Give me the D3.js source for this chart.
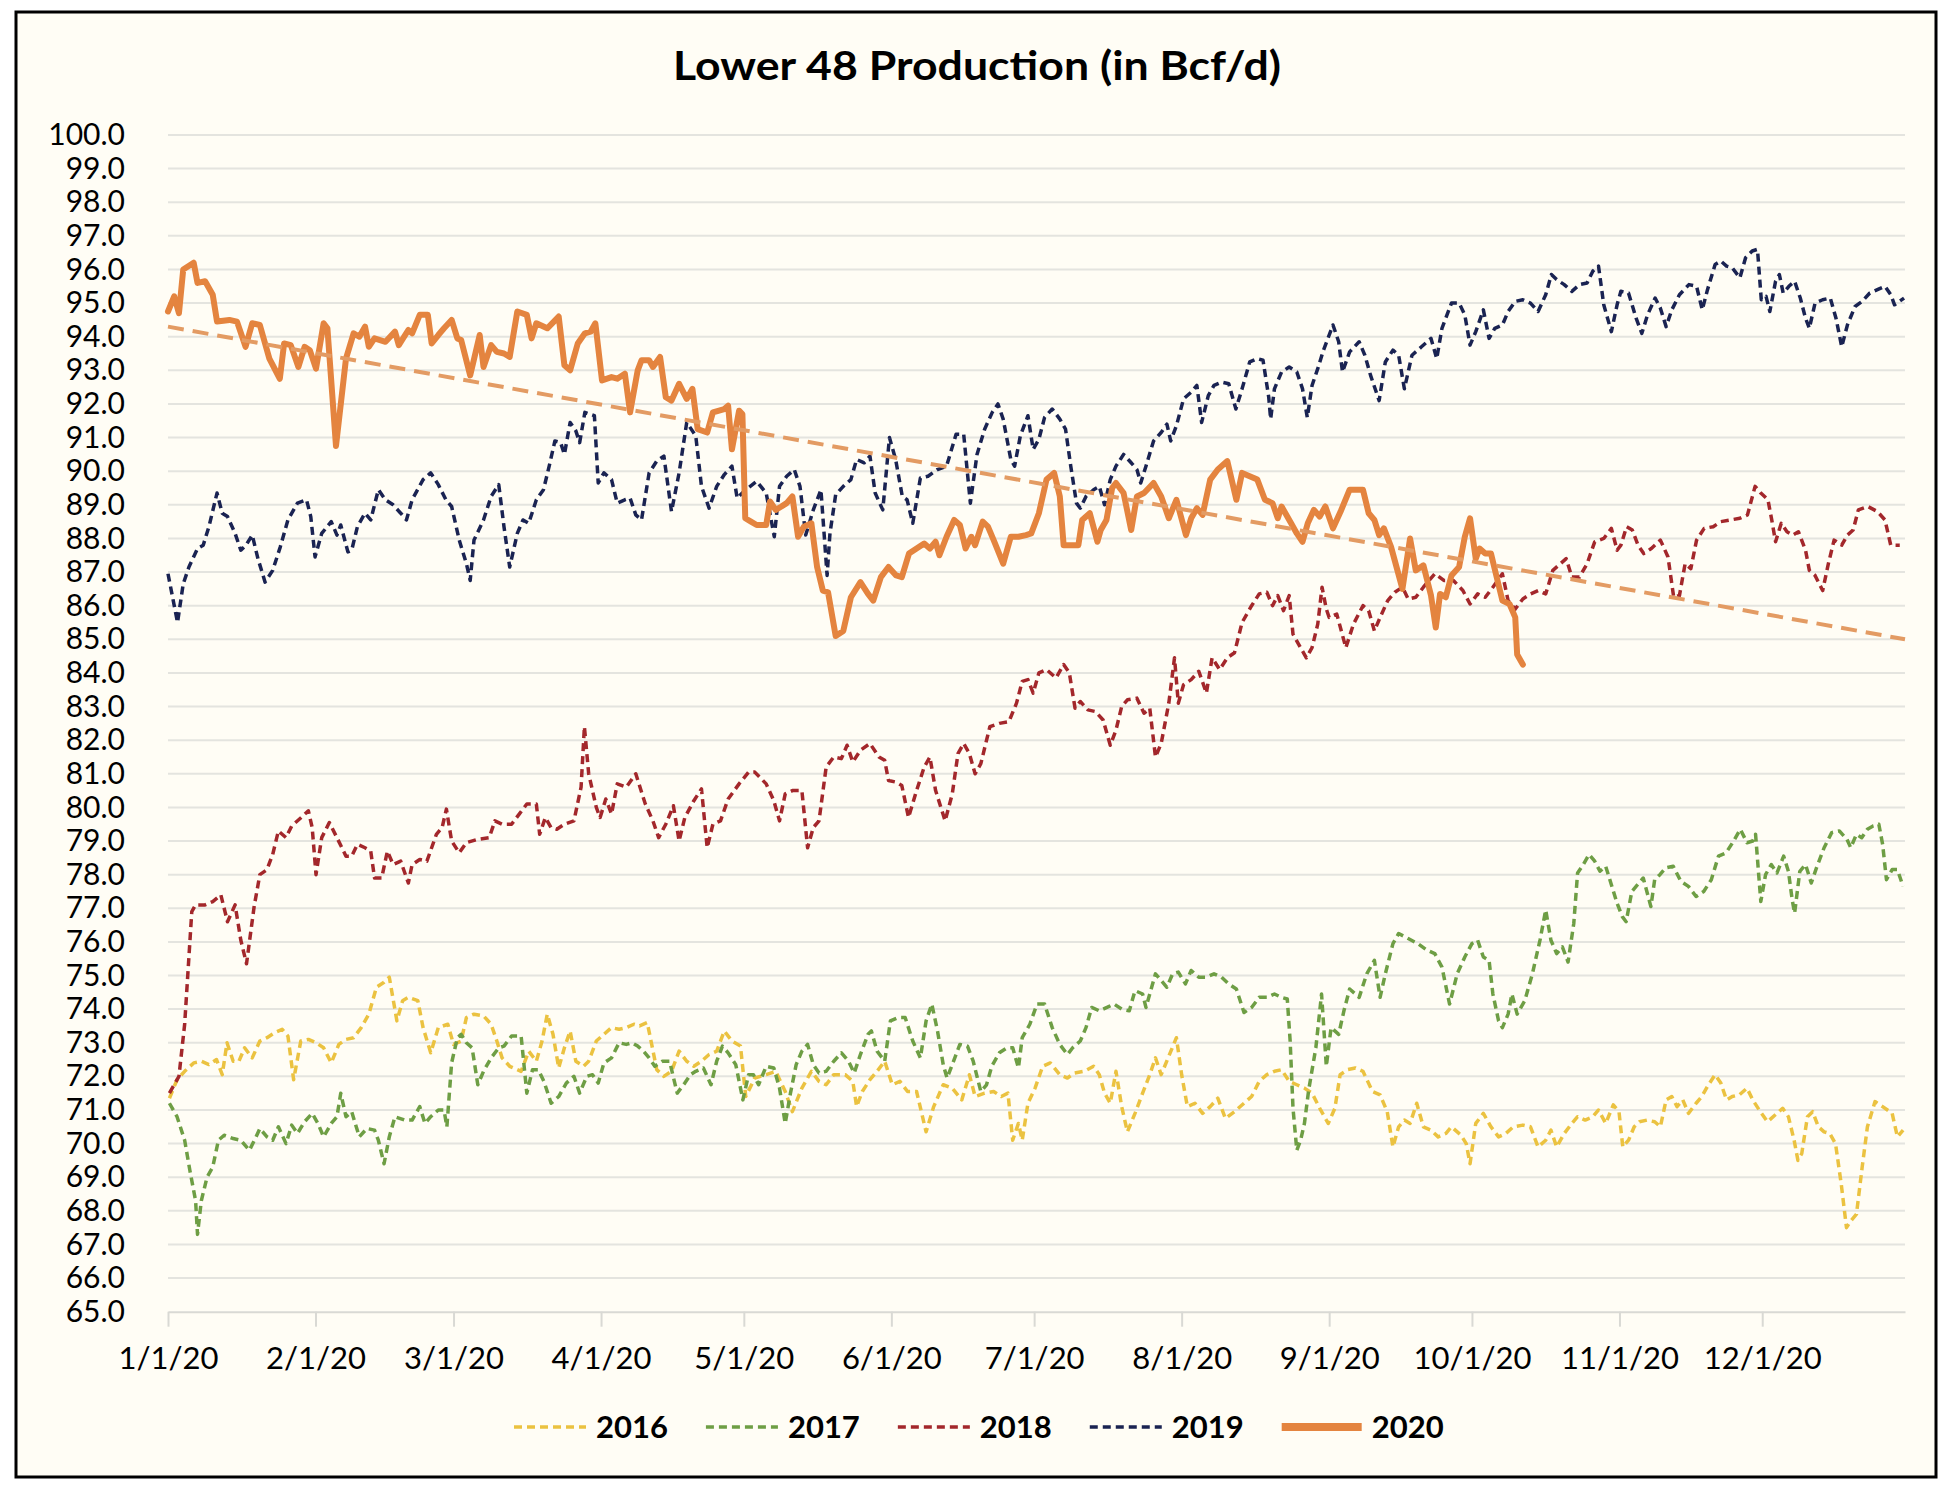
<!DOCTYPE html>
<html><head><meta charset="utf-8">
<script src="https://cdn.jsdelivr.net/npm/d3@7"></script>
<style>
html,body{margin:0;padding:0;background:#ffffff;}
svg{display:block;font-family:Lato,"Open Sans",sans-serif;}
</style></head><body>
<svg id="chart" width="1950" height="1492"></svg>
<script>
// ---------- DATA ----------
const chartTitle = "Lower 48 Production (in Bcf/d)";
const seriesNames = ["2016", "2017", "2018", "2019", "2020"];
const yTickValues = d3.range(65, 101, 1);
const monthTicks = d3.range(0, 12).map(m => new Date(2020, m, 1));
// points: [day of year offset from 1/1/20, Bcf/d]
const s2016 = [[0.3,71.35],[1.9,71.9],[3.5,72.15],[5.4,72.4],[7,72.45],[8.6,72.35],[10.2,72.5],[11.4,72.05],[12.4,73],[13.7,72.45],[14.9,72.45],[16.1,72.85],[17.7,72.55],[19.3,73.05],[20.8,73.15],[22.4,73.3],[24,73.4],[25.2,73.2],[26.4,71.9],[27.9,73.05],[29.5,73.1],[31.1,73],[32.7,72.85],[34.3,72.4],[35.9,72.95],[37.4,73.1],[39,73.15],[40.6,73.45],[42.2,73.85],[43.8,74.65],[45.4,74.8],[46.5,74.95],[48.1,73.65],[49.3,74.25],[50.5,74.35],[52.5,74.25],[53.6,73.45],[55.2,72.7],[56.8,73.45],[58.8,73.55],[60,72.95],[61.6,73.05],[62.7,73.75],[64.3,73.85],[66.3,73.8],[67.9,73.55],[69.1,73.05],[70.2,72.55],[71.8,72.3],[74.2,72.15],[75.8,72.75],[77.4,72.45],[78.6,73.05],[79.7,73.85],[80.9,73.25],[82.1,72.25],[83.3,72.85],[84.5,73.35],[85.7,72.45],[87.3,72.3],[88.4,72.45],[90,73.05],[91.6,73.25],[93.2,73.45],[94.8,73.4],[96.3,73.45],[97.9,73.55],[99.1,73.5],[100.7,73.6],[101.5,73.05],[102.7,72.2],[104.2,72],[105.8,72.15],[107.4,72.75],[109,72.45],[110.5,72.3],[112.1,72.45],[113.7,72.65],[115.3,72.75],[116.9,73.35],[118.5,73.05],[120.3,72.9],[121.4,71.4],[123.3,71.95],[125.7,72.05],[127.7,72.15],[129.7,71.55],[131.2,70.95],[133.2,71.65],[135.2,72.15],[136.8,71.85],[138.3,71.75],[139.9,72.05],[142.3,72.05],[143.9,71.85],[144.7,71.1],[145.9,71.55],[147.5,71.9],[149,72.15],[150.6,72.45],[152.2,71.75],[153.8,71.85],[155.4,71.55],[157.3,71.55],[159.3,70.35],[160.9,71.1],[162.9,71.75],[164.8,71.65],[166.8,71.3],[168.4,72.05],[169.6,71.4],[171.6,71.5],[173.5,71.55],[175.1,71.4],[176.5,71.5],[177.5,70.1],[178.7,70.6],[179.5,70.1],[180.7,71.2],[182.2,71.65],[183.8,72.3],[185.4,72.4],[187.4,72.05],[189,71.95],[190.5,72.1],[192.5,72.15],[194.5,72.3],[195.7,72.05],[196.8,71.5],[198,71.2],[199.2,72.15],[200.4,71.1],[201.6,70.35],[203.2,70.9],[204.8,71.5],[206.3,72.05],[207.5,72.55],[208.7,72.05],[210.3,72.6],[211.9,73.15],[213,72.05],[214.2,71.1],[215.8,71.2],[217.4,70.9],[219,71.1],[220.6,71.35],[222.2,70.75],[224.1,70.95],[226.1,71.2],[227.7,71.4],[229.3,71.85],[230.9,72.05],[232.5,72.15],[234,72.2],[235.6,71.85],[237.2,71.75],[238.8,71.65],[240.4,71.5],[242.2,71],[243.8,70.6],[245.2,71.05],[246.3,72.05],[247.9,72.2],[249.5,72.25],[251.1,72.15],[253.1,71.55],[254.7,71.45],[256.2,70.95],[257.4,69.9],[258.6,70.5],[259.8,70.7],[261,70.6],[262.4,71.2],[263.8,70.5],[265.4,70.4],[266.9,70.2],[268.5,70.3],[269.7,70.5],[271.7,70.25],[272.8,70],[273.6,69.4],[274.8,70.6],[276.4,70.9],[278,70.5],[279.6,70.2],[281.1,70.3],[282.7,70.5],[284.7,70.55],[286.3,70.5],[287.9,69.9],[289.5,70.1],[290.6,70.4],[291.8,69.9],[293.4,70.3],[295,70.6],[296.2,70.8],[297.8,70.7],[299.4,70.8],[300.6,71],[302.1,70.6],[303.7,71.15],[304.9,70.95],[305.7,69.9],[306.9,70.1],[308.1,70.5],[309.2,70.65],[310.8,70.7],[312.4,70.65],[313.6,70.5],[314.8,71.3],[316,71.4],[317.1,71.1],[318.3,71.3],[319.5,70.9],[321.1,71.2],[322.3,71.4],[323.5,71.7],[325.1,72.05],[326.3,71.8],[327.5,71.3],[328.7,71.4],[330.2,71.45],[331.8,71.65],[333,71.3],[334.6,70.95],[336.1,70.65],[337.7,70.85],[339.3,71.05],[340.5,70.8],[341.7,70.1],[342.5,69.5],[343.3,69.7],[344.5,70.8],[345.6,70.95],[346.8,70.5],[348,70.35],[349.2,70.3],[350.4,70],[351.6,68.8],[352.7,67.5],[353.6,67.7],[354.8,67.9],[356,69.3],[357.1,70.5],[358.7,71.25],[360.3,71.1],[362.3,70.9],[363.4,70.2],[364.6,70.4]];
const s2017 = [[0.3,71.2],[1.9,70.8],[3.5,70.1],[4.6,69.2],[5.8,68.3],[6.2,67.3],[7,68.3],[8.2,69],[9.4,69.3],[10.6,70.1],[11.8,70.25],[13.7,70.15],[15.3,70.1],[17.1,69.8],[18.5,70.2],[19.3,70.45],[20.8,70.2],[22,70.1],[23.2,70.5],[24.8,70],[26,70.55],[27.2,70.3],[28.7,70.65],[30.3,70.9],[31.5,70.6],[32.7,70.2],[34.3,70.6],[35.5,70.8],[36.3,71.5],[37.4,70.8],[38.6,70.95],[40.2,70.2],[41.8,70.45],[43.4,70.4],[44.2,70.1],[45.4,69.4],[46.5,70.2],[47.7,70.8],[49.7,70.7],[51.3,70.7],[52.9,71.1],[54,70.6],[55.2,70.8],[56.8,71],[58,71],[58.6,70.5],[59.6,72.4],[60.8,73.15],[61.6,73.25],[62.7,73],[63.9,72.85],[65.1,71.75],[66.3,72.15],[67.9,72.55],[69.5,72.85],[70.6,72.9],[72.2,73.2],[74.2,73.2],[75.4,71.5],[76.6,72.2],[77.8,72.2],[79,71.85],[80.5,71.2],[82.1,71.4],[83.7,71.8],[85.3,72],[86.5,71.5],[88,72],[89.2,72.05],[90.4,71.8],[91.6,72.4],[93.2,72.55],[94.8,73],[96.3,72.95],[97.5,73],[98.7,72.9],[99.9,72.75],[101.1,72.55],[102.3,72.3],[103.9,72.45],[105.4,72.45],[107,71.5],[108.6,71.8],[109.8,72.05],[110.9,72.15],[112.5,72.25],[114.1,71.75],[115.3,72.45],[116.5,72.9],[117.7,72.7],[119.3,72.35],[120.8,71.3],[122,72.05],[123,72.05],[124.1,71.75],[125.7,72.3],[127.3,72.25],[128.5,71.65],[129.7,70.6],[130.8,71.5],[132,72.35],[133.2,72.75],[134.4,72.95],[135.6,72.35],[136.8,72.1],[138.3,72.15],[139.9,72.45],[141.5,72.7],[143,72.45],[144.2,72.1],[145.5,72.65],[147.1,73.25],[147.8,73.35],[149,72.75],[150.6,72.45],[151.8,73.65],[153.4,73.75],[154.9,73.75],[156.5,73.05],[158.1,72.55],[159.3,73.65],[160.5,74.15],[161.7,73.35],[162.9,72.35],[163.7,71.95],[164.8,72.35],[166.4,72.95],[168,72.9],[169.2,72.45],[170.8,71.55],[172,71.75],[173.1,72.3],[174.7,72.7],[176.3,72.85],[177.5,72.85],[178.7,72.25],[179.5,73.15],[181.1,73.55],[182.6,74.15],[184.2,74.15],[185.8,73.45],[187.4,72.95],[189,72.65],[190.1,72.85],[191.7,73.05],[192.9,73.45],[194.1,74.05],[195.7,73.95],[197.3,74.05],[198.8,74.15],[200.4,74],[202,73.95],[203.2,74.55],[204.8,74.45],[205.5,74.05],[206.7,74.65],[207.5,75.05],[208.7,74.85],[209.9,74.65],[211.1,75.05],[212.3,75.1],[213.8,74.75],[215,75.15],[216.6,74.95],[218.2,74.95],[219.8,75.05],[221.4,74.95],[222.9,74.75],[224.5,74.6],[226.1,73.9],[227.7,74.05],[229.3,74.35],[230.9,74.35],[232.5,74.45],[234,74.35],[235.2,74.3],[235.8,73.05],[236.4,71.05],[237.2,69.8],[238,70.1],[238.8,70.6],[239.7,71.6],[241.2,72.85],[242.4,74.45],[243.4,72.3],[244.4,73.45],[246,73.25],[247.1,73.95],[248.3,74.6],[250.3,74.35],[251.9,75.05],[253.5,75.45],[254.7,74.35],[255.8,75.05],[257.4,75.95],[258.6,76.25],[260.6,76.1],[262.6,75.95],[264.6,75.75],[266.2,75.65],[267.7,75.25],[269.3,74.15],[270.9,75.05],[272.5,75.55],[274,75.95],[275.2,76.05],[276.4,75.55],[277.6,75.45],[278.4,74.45],[279.6,73.65],[280.4,73.45],[281.6,73.85],[282.4,74.45],[283.5,73.85],[285.1,74.25],[286.7,75.05],[288.3,76.05],[289.5,76.95],[290.6,76.05],[291.8,75.65],[293,75.85],[294.2,75.4],[295.4,76.55],[296.2,78.05],[297.4,78.3],[298.6,78.6],[299.8,78.4],[300.9,78.1],[302.1,78.25],[303.3,77.7],[304.5,77.15],[305.6,76.75],[306.4,76.6],[307.6,77.5],[308.8,77.7],[310,77.9],[311.6,77.05],[312.4,77.85],[313.5,78],[314.7,78.2],[316.3,78.25],[317.9,77.8],[319.5,77.65],[321.1,77.35],[322.7,77.5],[324.3,77.85],[325.8,78.55],[327.4,78.65],[329,79],[330.4,79.35],[331.8,78.95],[333,79],[333.6,79.2],[334.2,78.1],[334.7,77.2],[335.7,78],[336.9,78.3],[338.1,78.05],[339.5,78.55],[340.5,78.1],[341.3,77.25],[341.8,76.85],[342.9,78.1],[344.1,78.3],[345.3,77.75],[346.4,78.2],[348,78.8],[349.6,79.25],[351.2,79.3],[352.8,79.05],[353.6,78.8],[354.8,79.2],[355.9,79.1],[357.1,79.35],[358.3,79.45],[359.5,79.5],[360.3,78.9],[361.1,77.85],[362.3,78.15],[363.4,78.15],[364.6,77.65]];
const s2018 = [[0.3,71.5],[2.3,72],[3.5,73.55],[5,76.9],[5.8,77.1],[7.8,77.1],[9.4,77.2],[11.1,77.4],[12.5,76.6],[14.1,77.1],[15.3,76.05],[16.5,75.35],[18.1,77.05],[19.3,78],[20.8,78.15],[22,78.6],[23.2,79.3],[24.8,79.1],[26,79.45],[28,79.7],[29.5,79.9],[30.3,79.4],[31.1,78],[32.3,79.1],[33.9,79.55],[35.5,79.1],[37.4,78.55],[38.6,78.55],[39.8,78.9],[41.4,78.8],[42.6,78.7],[43.4,77.9],[44.9,77.9],[46.1,78.7],[47.3,78.3],[48.9,78.4],[50.5,77.75],[51.3,78.3],[52.9,78.45],[54.4,78.4],[56.4,79.2],[57.6,79.4],[58.5,79.95],[59.6,79],[61.2,78.65],[62.7,78.95],[65.1,79.05],[67.5,79.1],[68.7,79.6],[70.2,79.5],[72.2,79.5],[73.8,79.8],[75.4,80.1],[77.4,80.1],[78.1,79.2],[79.3,79.7],[80.5,79.4],[81.7,79.35],[83.3,79.5],[85.3,79.6],[86.8,80.6],[87.5,82.4],[88.4,81],[90,80],[90.8,79.7],[92,80.25],[93.2,79.8],[94.4,80.7],[96.3,80.6],[98.3,81],[100.3,80.1],[101.9,79.6],[103.1,79.1],[104.6,79.5],[106.2,80.05],[107.4,79],[108.6,79.7],[110.5,80.2],[112.1,80.55],[113.3,78.8],[114.5,79.5],[116.1,79.6],[117.7,80.25],[120,80.7],[122,81.05],[123.3,81.05],[125.7,80.7],[127.3,80.2],[128.5,79.6],[129.7,80.4],[131.2,80.5],[133.2,80.5],[134.4,78.8],[135.6,79.4],[136.8,79.6],[138.3,81.2],[139.9,81.5],[141.5,81.45],[142.7,81.85],[143.9,81.35],[145.5,81.7],[147.5,81.9],[149.4,81.5],[150.6,81.4],[151.4,80.8],[153,80.75],[154.2,80.65],[155.6,79.7],[157.3,80.5],[158.9,81.2],[160.1,81.5],[161.3,80.5],[163.3,79.6],[164.8,80.4],[166,81.6],[167.2,81.9],[168.4,81.6],[169.6,81],[170.8,81.3],[172.7,82.4],[174.7,82.5],[176.7,82.55],[178.3,83.1],[179.5,83.75],[180.7,83.8],[181.8,83.4],[183,84],[184.6,84.1],[186.6,83.85],[188.2,84.25],[189.4,84],[190.6,82.95],[191.7,83.15],[193.3,82.9],[194.9,82.85],[196.5,82.6],[198,81.85],[199.2,82.3],[200.4,83],[201.6,83.2],[203.6,83.25],[205.1,82.8],[206.3,82.95],[207.5,81.5],[208.7,81.9],[210.3,83.1],[211.5,84.45],[212.3,83.1],[213.4,83.65],[215,83.8],[216.6,84.05],[218.2,83.4],[219.4,84.45],[221,84.1],[222.6,84.45],[224.1,84.6],[225.7,85.5],[227.7,86],[229.3,86.35],[230.9,86.4],[232.1,86],[233.2,86.3],[234.4,85.85],[235.6,86.3],[236.4,85.15],[238,84.75],[239.2,84.45],[240.4,84.75],[241.6,85.45],[242.5,86.55],[243.4,85.9],[244,85.65],[245.6,85.75],[247.5,84.75],[249.1,85.45],[251.1,86],[252.3,85.85],[253.5,85.25],[254.7,85.65],[256.3,86.15],[257.8,86.4],[259.4,86.55],[260.6,86.2],[262.2,86.25],[263.8,86.55],[266.2,86.95],[268.1,86.75],[270.1,86.75],[272.1,86.45],[273.6,86.05],[275.2,86.35],[276.8,86.25],[278.4,86.55],[280.4,86.95],[281.6,86.15],[283.1,85.9],[284.7,86.2],[286.3,86.35],[287.9,86.45],[289.5,86.35],[291,87.05],[292.6,87.25],[293.8,87.4],[295,86.85],[296.6,86.85],[298.2,87.25],[299.8,87.9],[301.7,88],[303.3,88.3],[304.5,87.65],[305.3,87.8],[306.5,88.35],[307.7,88.25],[308.9,87.8],[310.1,87.55],[311.7,87.7],[313.6,87.95],[315.2,87.45],[316.4,86.25],[317.6,86.3],[318.8,87.25],[320,87.1],[321.2,87.95],[322.8,88.3],[324.7,88.35],[326.3,88.5],[328.3,88.55],[330.3,88.6],[331.9,88.7],[333.5,89.55],[334.7,89.35],[336.2,89.15],[337,88.55],[337.8,87.9],[339,88.45],[340.2,88.2],[341.4,88.1],[342.6,88.2],[344.1,87.65],[344.9,87.05],[346.1,86.9],[347.7,86.45],[348.9,87.25],[350.1,87.95],[351.7,87.8],[352.9,88.1],[354.1,88.25],[355.2,88.85],[357.2,88.95],[359.2,88.8],[360.8,88.55],[362,87.8],[363.9,87.8]];
const s2019 = [[0,86.95],[2,85.5],[3.2,86.65],[4.4,87.15],[6.2,87.7],[7.4,87.8],[8.6,88.35],[10.3,89.35],[11.4,88.75],[12.5,88.65],[14.1,88.15],[15.3,87.65],[16.4,87.8],[17.7,88.1],[18.9,87.4],[20.4,86.7],[22,87.05],[23.6,87.75],[25.2,88.55],[27.2,89.05],[29.1,89.15],[30,88.65],[30.9,87.45],[32.3,88.15],[34.3,88.5],[35.5,88.1],[36.3,88.4],[37.8,87.6],[38.6,87.65],[39.8,88.35],[41.4,88.75],[42.6,88.55],[44.2,89.45],[45.7,89.15],[47.3,89],[48.9,88.75],[50.1,88.55],[51.3,89.15],[53.6,89.75],[55.2,89.95],[56.8,89.6],[58.4,89.15],[59.6,88.95],[61.2,87.95],[62.7,87.25],[63.5,86.75],[64.3,87.95],[66.3,88.55],[67.9,89.25],[69.5,89.6],[70.6,88.35],[71.8,87.15],[73.4,88.15],[74.6,88.55],[75.8,88.45],[77.4,89.15],[78.9,89.45],[80.1,90.15],[81.3,90.9],[82.5,90.85],[83.3,90.5],[84.5,91.45],[85.7,91.2],[86.5,90.85],[87.6,91.75],[89.6,91.65],[90.4,89.65],[91.6,89.95],[93.2,89.75],[94.4,89.05],[96,89.15],[97.1,89.2],[98.3,88.7],[99.5,88.55],[101.1,89.95],[102.7,90.3],[104.2,90.45],[105.8,88.8],[107.4,89.95],[109,91.45],[110.9,91.05],[112.1,89.55],[113.7,88.9],[115.3,89.55],[116.9,89.9],[118.5,90.15],[119.6,89.2],[121,89.4],[123.7,89.7],[125.7,89.35],[127.4,88.05],[128.5,89.55],[130,89.85],[131.6,90.05],[132.8,89.55],[134,88.1],[135.6,88.85],[137.2,89.45],[138.5,86.9],[139.1,88.15],[140.3,89.3],[141.9,89.55],[143.5,89.75],[144.7,90.35],[146.3,90.25],[147.5,90.45],[148.6,89.35],[150.2,88.85],[151.6,91],[152.9,90.35],[154.3,89.25],[155.3,89.15],[156.5,88.45],[158.1,89.8],[159.7,89.85],[161.7,90.05],[163.6,90.15],[165.6,91.1],[167.2,91.1],[168.6,89.05],[170,90.5],[171.6,91.25],[173.2,91.75],[174.4,92],[175.5,91.55],[177.1,90.35],[177.9,90.15],[179.1,91.05],[180.7,91.65],[181.8,90.65],[183,90.95],[184.2,91.6],[185.8,91.85],[187.4,91.55],[188.6,91.25],[189.7,90.15],[190.9,89.05],[191.7,88.9],[192.9,89.25],[194.5,89.45],[195.7,89.55],[196.8,89],[198,89.75],[199.2,90.15],[200.8,90.5],[202.4,90.25],[203.6,90.05],[204.4,89.65],[205.5,90.15],[207.1,90.9],[208.7,91.15],[209.9,91.4],[210.7,90.9],[211.9,91.35],[213.4,92.15],[215,92.35],[216.2,92.55],[217.2,91.45],[218.6,92.25],[219.8,92.55],[221.4,92.65],[222.9,92.6],[224.4,91.85],[225.7,92.45],[227.3,93.25],[228.9,93.35],[230.1,93.3],[231.3,92.2],[231.7,91.55],[232.5,92.45],[234,92.95],[235.6,93.1],[237.2,92.95],[238.4,92.45],[239.4,91.6],[240.4,92.55],[241.6,93.05],[242.8,93.6],[244.8,94.35],[246,93.85],[246.8,92.95],[248.3,93.55],[250.3,93.85],[251.5,93.45],[252.7,92.85],[254.5,92.1],[255.8,93.25],[257.4,93.6],[258.6,93.45],[259.8,92.45],[261.4,93.45],[263.4,93.7],[265.4,93.95],[266.6,93.35],[267.7,94.25],[269.7,95],[271.3,95],[272.5,94.65],[273.6,93.75],[274.8,94.15],[276.4,94.8],[277.6,93.95],[278.8,94.25],[280.4,94.35],[281.6,94.75],[283.1,95.05],[284.7,95.1],[286.3,95],[287.9,94.75],[289.5,95.25],[290.7,95.85],[291.8,95.7],[293.4,95.55],[295,95.35],[296.6,95.55],[298.2,95.6],[299.4,95.95],[300.6,96.1],[301.7,94.95],[303.3,94.15],[304.5,94.95],[305.3,95.35],[306.9,95.3],[308.5,94.55],[309.7,94.1],[310.9,94.65],[312.5,95.15],[313.6,94.85],[314.8,94.3],[316,94.8],[317.6,95.25],[319.6,95.55],[321.2,95.5],[322.4,94.8],[323.5,95.4],[325.1,96.15],[326.3,96.25],[327.5,96.1],[328.7,96.05],[330.3,95.75],[331.5,96.35],[332.9,96.55],[334,96.6],[334.8,95.1],[335.8,95.2],[336.6,94.75],[337.8,95.65],[338.6,95.85],[339.4,95.3],[340.6,95.5],[341.8,95.65],[343,95.15],[344.1,94.55],[344.9,94.25],[346.1,95],[347.7,95.1],[349.3,95.15],[350.5,94.55],[351.7,93.7],[352.9,94.35],[354.5,94.9],[356,95.05],[357.6,95.3],[359.2,95.4],[360.8,95.5],[362,95.25],[362.8,94.95],[364.8,95.15]];
const s2020 = [[0,94.75],[1.3,95.2],[2.3,94.7],[3.2,96],[5.4,96.2],[6.2,95.6],[7.8,95.65],[9.4,95.25],[10.3,94.45],[12.9,94.5],[14.5,94.45],[16.3,93.7],[17.7,94.4],[19.3,94.35],[21.3,93.35],[23.5,92.75],[24.4,93.8],[25.8,93.75],[27.4,93.1],[28.7,93.7],[29.8,93.6],[31.1,93.05],[32.7,94.4],[33.5,94.25],[35.3,90.75],[37.4,93.35],[39,94.1],[40.2,94],[41.4,94.3],[42.2,93.7],[43.4,93.95],[45.7,93.85],[47.7,94.15],[48.5,93.75],[50.5,94.2],[51.3,94.1],[52.9,94.65],[54.6,94.65],[55.4,93.8],[56.8,94.05],[58,94.25],[59.6,94.5],[60.8,93.95],[61.6,93.9],[63.5,92.85],[65.5,94.05],[66.3,93.1],[67.9,93.75],[69.1,93.55],[70.6,93.5],[71.8,93.4],[73.4,94.75],[75.4,94.65],[76.4,93.95],[77.4,94.4],[79.7,94.25],[82.1,94.6],[83.3,93.15],[84.5,93],[86.1,93.8],[87.6,94.1],[88.8,94.15],[89.8,94.4],[91.2,92.7],[93.2,92.8],[94.4,92.75],[96,92.9],[97.1,91.75],[98.7,93],[99.5,93.3],[101.1,93.3],[101.9,93.1],[103.4,93.4],[104.6,92.2],[105.8,92.1],[107.4,92.6],[109,92.15],[110.2,92.45],[111.3,91.25],[113.3,91.15],[114.5,91.75],[116.9,91.85],[117.7,91.95],[118.5,90.65],[120,91.8],[120.7,91.7],[121.3,88.6],[122.5,88.5],[123.7,88.4],[125.7,88.4],[126.5,89.1],[127.7,88.85],[128.9,88.95],[130,89.05],[131.2,89.25],[132.4,88.05],[133.6,88.35],[135.2,88.45],[136.4,87.15],[137.6,86.45],[138.7,86.4],[140.3,85.1],[141.9,85.25],[143.5,86.25],[145.5,86.7],[147.1,86.35],[148.2,86.15],[149.8,86.85],[151.4,87.15],[153,86.9],[154.2,86.85],[155.7,87.55],[157.3,87.7],[158.9,87.85],[160.1,87.7],[161.3,87.9],[162.1,87.5],[163.6,88.05],[165.2,88.55],[166.4,88.4],[167.6,87.7],[168.8,88.05],[169.6,87.8],[171.2,88.5],[172.3,88.35],[173.5,87.95],[175.5,87.25],[177.1,88.05],[178.7,88.05],[180.3,88.1],[181.4,88.15],[183,88.75],[184.6,89.75],[186.2,89.95],[187.4,89.25],[188.2,87.8],[189.7,87.8],[191.3,87.8],[192.1,88.55],[193.7,88.75],[195.3,87.9],[196,88.25],[197.2,88.55],[198.4,89.5],[199.2,89.65],[200.8,89.35],[202.4,88.25],[203.6,89.25],[205.1,89.35],[207.1,89.65],[208.7,89.25],[210.3,88.6],[211.9,89.15],[213.9,88.1],[215,88.6],[216.2,88.9],[217.4,88.7],[219,89.75],[220.6,90.05],[222.6,90.3],[224.5,89.15],[225.7,89.95],[227.3,89.85],[228.9,89.75],[230.5,89.15],[232.1,89.05],[233.2,88.6],[234,88.95],[236,88.45],[237.2,88.15],[238.4,87.9],[239.5,88.45],[240.8,88.85],[242,88.65],[243.2,88.95],[244.8,88.3],[246.4,88.8],[248.3,89.45],[251.1,89.45],[252.3,88.75],[253.5,88.55],[254.5,88.1],[255.5,88.3],[257,87.75],[259.4,86.5],[261,88],[262.2,87.05],[263.8,87.2],[265.4,86.3],[266.4,85.35],[267.3,86.35],[268.5,86.25],[269.7,86.9],[271.3,87.15],[272.5,88.05],[273.6,88.6],[274.8,87.4],[275.6,87.7],[276.8,87.55],[278,87.55],[279.2,86.85],[280.4,86.15],[281.9,86.05],[283.1,85.65],[283.5,84.55],[284.7,84.25]];
const trend2020 = [[0,94.3],[365,85.0]];

// ---------- CHART ----------
const svg = d3.select("#chart");
const W = 1950, H = 1492;
const box = {x:16, y:12, w:1920, h:1465};
const plot = {left:168, right:1905, top:135, bottom:1311.7};
const base = new Date(2020, 0, 1).getTime();
const toDate = d => new Date(base + d * 864e5);

const x = d3.scaleTime().domain([new Date(2020,0,1), new Date(2020,11,31)]).range([plot.left, plot.right]);
const y = d3.scaleLinear().domain([65, 100]).range([plot.bottom, plot.top]);

svg.append("rect").attr("width", W).attr("height", H).attr("fill", "#ffffff");
svg.append("rect").attr("x", box.x).attr("y", box.y).attr("width", box.w).attr("height", box.h)
  .attr("fill", "#FFFDF5").attr("stroke", "#000").attr("stroke-width", 3);

// title
svg.append("text").attr("x", 977).attr("y", 80).attr("text-anchor", "middle")
  .attr("font-size", 41).attr("font-weight", 700).attr("fill", "#000")
  .attr("textLength", 608).attr("lengthAdjust", "spacingAndGlyphs")
  .text(chartTitle);

// gridlines
svg.append("g").selectAll("line").data(yTickValues.filter(v => v > 65)).join("line")
  .attr("x1", plot.left).attr("x2", plot.right)
  .attr("y1", d => y(d)).attr("y2", d => y(d))
  .attr("stroke", "#E4E4DF").attr("stroke-width", 2);

// y axis labels
const yAxis = svg.append("g").attr("transform", `translate(${plot.left},0)`)
  .call(d3.axisLeft(y).tickValues(yTickValues).tickFormat(d3.format(".1f")).tickSize(0).tickPadding(43));
yAxis.select(".domain").remove();
yAxis.selectAll("text").attr("font-size", 30).attr("font-family", "Lato, 'Open Sans', sans-serif").attr("fill", "#000");

// x axis
const xAxis = svg.append("g").attr("transform", `translate(0,${plot.bottom})`)
  .call(d3.axisBottom(x).tickValues(monthTicks).tickFormat(d3.timeFormat("%-m/%-d/%y")).tickSize(15).tickSizeOuter(0).tickPadding(20));
xAxis.select(".domain").attr("stroke", "#D9D9D4").attr("stroke-width", 2);
xAxis.selectAll(".tick line").attr("stroke", "#D9D9D4").attr("stroke-width", 2);
xAxis.selectAll("text").attr("font-size", 31).attr("font-family", "Lato, 'Open Sans', sans-serif").attr("fill", "#000");

// series
const line = d3.line().x(d => x(toDate(d[0]))).y(d => y(d[1]));
const styles = {
  "2016": {data: s2016, color: "#EBC240", width: 3.5, dash: "8,5"},
  "2017": {data: s2017, color: "#6E9E44", width: 3.5, dash: "8,5"},
  "2018": {data: s2018, color: "#A3272B", width: 3.5, dash: "8,5"},
  "2019": {data: s2019, color: "#1A2352", width: 3.5, dash: "8,5"},
  "2020": {data: s2020, color: "#E4843F", width: 6, dash: null}
};
const gLines = svg.append("g").attr("fill", "none");
seriesNames.forEach(name => {
  const st = styles[name];
  const p = gLines.append("path").datum(st.data).attr("d", line)
    .attr("stroke", st.color).attr("stroke-width", st.width)
    .attr("stroke-linejoin", "round").attr("stroke-linecap", st.dash ? "butt" : "round");
  if (st.dash) p.attr("stroke-dasharray", st.dash);
});
// trend line
gLines.append("path").datum(trend2020).attr("d", line)
  .attr("stroke", "#E39B63").attr("stroke-width", 4).attr("stroke-dasharray", "16,9");

// legend
const legend = svg.append("g").attr("transform", "translate(0,1427)");
let lx = 514;
seriesNames.forEach(name => {
  const st = styles[name];
  const len = name === "2020" ? 80 : 72;
  const l = legend.append("line").attr("x1", lx).attr("x2", lx + len).attr("y1", 0).attr("y2", 0)
    .attr("stroke", st.color).attr("stroke-width", name === "2020" ? 8 : 3.5);
  if (st.dash) l.attr("stroke-dasharray", st.dash);
  const t = legend.append("text").attr("x", lx + len + 10).attr("y", 0).attr("dy", "0.36em")
    .attr("font-size", 31).attr("font-weight", 700).attr("fill", "#000").text(name);
  const tw = t.node().getComputedTextLength();
  lx += len + 10 + tw + 38;
});
</script>
</body></html>
